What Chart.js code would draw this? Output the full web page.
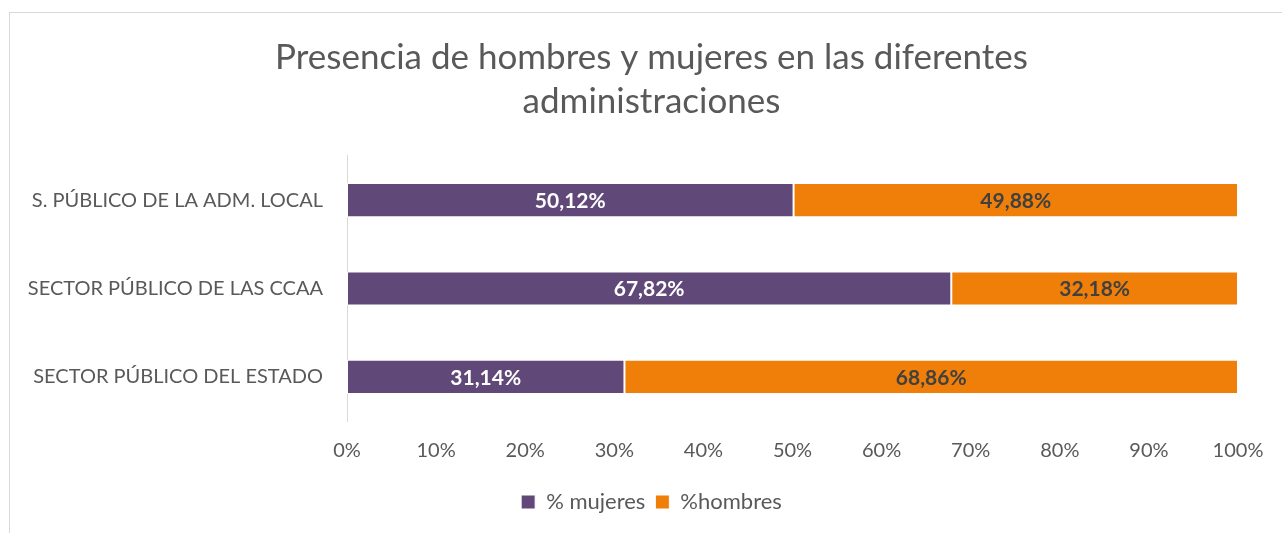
<!DOCTYPE html>
<html>
<head>
<meta charset="utf-8">
<script src="https://cdn.jsdelivr.net/npm/chart.js@4"></script>
<style>
  html, body { margin: 0; padding: 0; background: #fff; overflow: hidden; }
  #wrap { position: relative; width: 1282px; height: 533px; overflow: hidden; }
  #frame { position: absolute; left: 9px; top: 12px; width: 1400px; height: 700px; border: 1px solid #d9d9d9; box-sizing: border-box; }
  #chart-box { position: absolute; left: 0; top: 0; width: 1300px; height: 533px; }
</style>
</head>
<body>
<div id="wrap">
  <div id="frame"></div>
  <div id="chart-box"><canvas id="bars"></canvas></div>
</div>
<script>
const categories = [
  'S. PÚBLICO DE LA ADM. LOCAL',
  'SECTOR PÚBLICO DE LAS CCAA',
  'SECTOR PÚBLICO DEL ESTADO',
];
const mujeres = [50.12, 67.82, 31.14];
const hombres = [49.88, 32.18, 68.86];
const seriesNames = ['% mujeres', '%hombres'];
const titleLines = ['Presencia de hombres y mujeres en las diferentes', 'administraciones'];

const FONT = 'Lato, "Open Sans", sans-serif';
const GREY = '#595959';

// labels centred inside each bar segment
const barLabels = {
  id: 'barLabels',
  afterDatasetsDraw(chart) {
    const ctx = chart.ctx;
    ctx.save();
    ctx.font = 'bold 21px ' + FONT;
    ctx.textAlign = 'center';
    ctx.textBaseline = 'middle';
    chart.data.datasets.forEach((ds, i) => {
      const meta = chart.getDatasetMeta(i);
      ctx.fillStyle = i === 0 ? '#ffffff' : '#404040';
      meta.data.forEach((bar, j) => {
        const txt = ds.data[j].toFixed(2).replace('.', ',') + '%';
        ctx.fillText(txt, (bar.x + bar.base) / 2, bar.y + 1);
      });
    });
    ctx.restore();
  },
};

new Chart(document.getElementById('bars').getContext('2d'), {
  type: 'bar',
  data: {
    labels: categories,
    datasets: [
      {
        label: seriesNames[0],
        data: mujeres,
        backgroundColor: '#604878',
        borderColor: '#ffffff',
        borderWidth: 1,
        borderSkipped: false,
        categoryPercentage: 1,
        barPercentage: 0.386,
      },
      {
        label: seriesNames[1],
        data: hombres,
        backgroundColor: '#f07f09',
        borderColor: '#ffffff',
        borderWidth: 1,
        borderSkipped: false,
        categoryPercentage: 1,
        barPercentage: 0.386,
      },
    ],
  },
  options: {
    indexAxis: 'y',
    responsive: true,
    maintainAspectRatio: false,
    animation: false,
    layout: { padding: { left: 9, right: 6, top: 0, bottom: 10 } },
    scales: {
      x: {
        stacked: true,
        min: 0,
        max: 100,
        ticks: {
          stepSize: 10,
          padding: 18,
          color: GREY,
          font: { family: FONT, size: 20 },
          callback: (v) => v + '%',
        },
        grid: { display: false, drawTicks: false },
        border: { display: false },
      },
      y: {
        stacked: true,
        afterFit(axis) { axis.width = 338; },
        ticks: {
          padding: 24,
          color: GREY,
          font: { family: FONT, size: 20 },
        },
        grid: { display: false, drawTicks: false },
        border: { display: true, color: '#d9d9d9', width: 1 },
      },
      // empty spacer on the right so the plot ends where the original does
      spacer: {
        type: 'linear',
        axis: 'y',
        position: 'right',
        afterFit(axis) { axis.width = 56; },
        ticks: { display: false },
        grid: { display: false, drawTicks: false },
        border: { display: false },
      },
    },
    plugins: {
      title: {
        display: true,
        text: titleLines,
        color: GREY,
        font: { family: FONT, size: 35, weight: 'normal', lineHeight: 1.257 },
        padding: { top: 36, bottom: 32 },
      },
      legend: {
        position: 'bottom',
        labels: {
          color: GREY,
          font: { family: FONT, size: 22 },
          boxWidth: 14,
          boxHeight: 14,
          padding: 10,
        },
      },
      tooltip: { enabled: false },
    },
  },
  plugins: [barLabels],
});
</script>
</body>
</html>
